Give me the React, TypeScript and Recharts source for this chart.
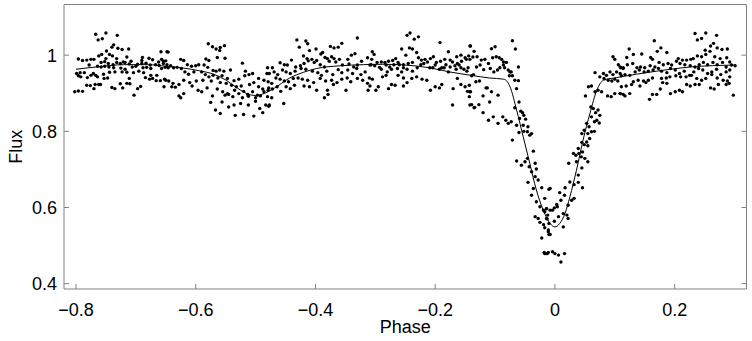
import React from "react";
import { ComposedChart, Scatter, Line, XAxis, YAxis } from "recharts";

const obsA: number[][] = [
  [-0.767,1.055],[-0.750,1.058],[-0.731,1.052],[-0.763,1.040],[-0.756,1.043],[-0.737,1.027],[-0.740,1.021],[-0.730,1.018],[-0.723,1.015],[-0.712,1.016],
  [-0.749,1.011],[-0.658,1.009],[-0.648,1.009],[-0.757,1.002],[-0.762,0.998],[-0.744,1.002],[-0.739,0.998],[-0.715,0.995],[-0.689,0.994],[-0.678,0.992],
  [-0.796,0.990],[-0.789,0.986],[-0.782,0.987],[-0.775,0.989],[-0.770,0.989],[-0.750,0.991],[-0.732,0.991],[-0.721,0.982],[-0.708,0.984],[-0.690,0.986],
  [-0.672,0.988],[-0.662,0.982],[-0.654,0.984],[-0.657,0.989],[-0.758,0.981],[-0.752,0.983],[-0.746,0.978],[-0.738,0.975],[-0.732,0.981],[-0.726,0.978],
  [-0.718,0.981],[-0.711,0.977],[-0.697,0.976],[-0.690,0.978],[-0.683,0.979],[-0.676,0.974],[-0.667,0.975],[-0.661,0.973],[-0.654,0.978],[-0.648,0.975],
  [-0.778,0.974],[-0.764,0.971],[-0.758,0.969],[-0.752,0.971],[-0.745,0.969],[-0.737,0.967],[-0.725,0.966],[-0.718,0.963],[-0.706,0.969],[-0.700,0.971],
  [-0.688,0.967],[-0.682,0.968],[-0.675,0.965],[-0.657,0.965],[-0.651,0.968],[-0.799,0.952],[-0.793,0.954],[-0.786,0.954],[-0.771,0.952],[-0.767,0.947],
  [-0.764,0.943],[-0.754,0.950],[-0.744,0.955],[-0.735,0.956],[-0.723,0.956],[-0.715,0.955],[-0.704,0.954],[-0.695,0.958],[-0.687,0.954],[-0.675,0.947],
  [-0.665,0.947],[-0.796,0.946],[-0.792,0.943],[-0.781,0.941],[-0.775,0.947],[-0.753,0.939],[-0.747,0.940],[-0.711,0.939],[-0.684,0.941],[-0.677,0.937],
  [-0.672,0.939],[-0.666,0.933],[-0.659,0.933],[-0.652,0.937],[-0.782,0.921],[-0.776,0.920],[-0.768,0.923],[-0.762,0.923],[-0.759,0.923],[-0.715,0.926],
  [-0.710,0.925],[-0.726,0.925],[-0.770,0.912],[-0.740,0.915],[-0.735,0.912],[-0.722,0.914],[-0.697,0.912],[-0.692,0.918],[-0.653,0.917],[-0.802,0.904],
  [-0.796,0.906],[-0.789,0.905],[-0.703,0.895]
];
const obsB: number[][] = [
  [-0.579,1.030],[-0.572,1.022],[-0.566,1.016],[-0.559,1.020],[-0.552,1.025],[-0.560,1.012],[-0.646,1.008],[-0.625,0.989],[-0.620,0.986],[-0.583,0.990],
  [-0.578,0.986],[-0.564,0.994],[-0.551,0.992],[-0.522,0.979],[-0.650,0.985],[-0.642,0.972],[-0.637,0.967],[-0.631,0.968],[-0.624,0.965],[-0.614,0.975],
  [-0.607,0.971],[-0.600,0.972],[-0.595,0.975],[-0.586,0.974],[-0.580,0.968],[-0.571,0.960],[-0.566,0.958],[-0.560,0.961],[-0.553,0.958],[-0.542,0.961],
  [-0.517,0.958],[-0.505,0.952],[-0.481,0.952],[-0.646,0.967],[-0.618,0.956],[-0.612,0.950],[-0.603,0.956],[-0.590,0.956],[-0.584,0.949],[-0.578,0.943],
  [-0.571,0.947],[-0.563,0.940],[-0.556,0.946],[-0.547,0.939],[-0.536,0.933],[-0.528,0.937],[-0.518,0.946],[-0.511,0.949],[-0.495,0.939],[-0.486,0.934],
  [-0.650,0.934],[-0.645,0.932],[-0.638,0.926],[-0.628,0.923],[-0.620,0.934],[-0.610,0.928],[-0.599,0.932],[-0.588,0.934],[-0.574,0.932],[-0.559,0.928],
  [-0.549,0.926],[-0.540,0.921],[-0.532,0.917],[-0.524,0.919],[-0.510,0.923],[-0.503,0.928],[-0.495,0.917],[-0.488,0.911],[-0.478,0.914],[-0.640,0.917],
  [-0.634,0.916],[-0.606,0.919],[-0.596,0.908],[-0.590,0.904],[-0.581,0.914],[-0.564,0.911],[-0.555,0.904],[-0.547,0.899],[-0.535,0.908],[-0.528,0.899],
  [-0.520,0.905],[-0.513,0.897],[-0.505,0.904],[-0.497,0.895],[-0.486,0.904],[-0.479,0.908],[-0.628,0.893],[-0.625,0.888],[-0.620,0.899],[-0.572,0.893],
  [-0.551,0.895],[-0.545,0.897],[-0.538,0.891],[-0.522,0.888],[-0.512,0.892],[-0.500,0.888],[-0.492,0.893],[-0.575,0.876],[-0.556,0.877],[-0.545,0.864],
  [-0.536,0.869],[-0.525,0.873],[-0.512,0.869],[-0.500,0.879],[-0.483,0.869],[-0.567,0.856],[-0.559,0.847],[-0.534,0.842],[-0.520,0.844],[-0.503,0.840],
  [-0.493,0.860],[-0.488,0.849],[-0.478,0.866]
];
const obsC: number[][] = [
  [-0.431,1.040],[-0.416,1.037],[-0.413,1.030],[-0.427,1.021],[-0.410,1.012],[-0.399,1.016],[-0.391,1.003],[-0.375,1.023],[-0.369,1.019],[-0.362,1.021],
  [-0.356,1.031],[-0.330,1.045],[-0.420,0.998],[-0.414,0.991],[-0.406,0.989],[-0.398,0.986],[-0.388,1.007],[-0.384,0.994],[-0.380,0.991],[-0.373,0.996],
  [-0.369,0.991],[-0.360,0.989],[-0.346,0.989],[-0.340,1.000],[-0.334,1.004],[-0.480,0.967],[-0.472,0.967],[-0.459,0.980],[-0.452,0.975],[-0.447,0.974],
  [-0.440,0.987],[-0.433,0.969],[-0.425,0.972],[-0.419,0.978],[-0.412,0.985],[-0.402,0.981],[-0.392,0.975],[-0.385,0.969],[-0.377,0.984],[-0.366,0.982],
  [-0.355,0.974],[-0.344,0.977],[-0.336,0.969],[-0.330,0.974],[-0.323,0.984],[-0.313,0.993],[-0.307,0.975],[-0.477,0.952],[-0.469,0.956],[-0.463,0.949],
  [-0.455,0.961],[-0.449,0.956],[-0.442,0.952],[-0.434,0.958],[-0.424,0.965],[-0.416,0.963],[-0.405,0.958],[-0.396,0.954],[-0.390,0.947],[-0.381,0.958],
  [-0.371,0.949],[-0.362,0.962],[-0.356,0.954],[-0.346,0.961],[-0.338,0.952],[-0.331,0.965],[-0.324,0.949],[-0.317,0.956],[-0.310,0.940],[-0.479,0.930],
  [-0.473,0.926],[-0.466,0.940],[-0.459,0.937],[-0.452,0.932],[-0.445,0.930],[-0.437,0.939],[-0.429,0.940],[-0.422,0.937],[-0.413,0.934],[-0.403,0.928],
  [-0.392,0.939],[-0.383,0.932],[-0.373,0.934],[-0.364,0.928],[-0.356,0.937],[-0.347,0.940],[-0.341,0.930],[-0.330,0.939],[-0.321,0.934],[-0.313,0.926],
  [-0.472,0.911],[-0.464,0.917],[-0.458,0.905],[-0.449,0.917],[-0.442,0.912],[-0.435,0.921],[-0.419,0.919],[-0.410,0.917],[-0.398,0.908],[-0.380,0.908],
  [-0.370,0.923],[-0.349,0.908],[-0.312,0.908],[-0.480,0.891],[-0.473,0.888],[-0.453,0.873],[-0.385,0.888],[-0.379,0.897],[-0.477,0.869]
];
const obsD: number[][] = [
  [-0.247,1.052],[-0.242,1.058],[-0.235,1.042],[-0.228,1.048],[-0.192,1.033],[-0.141,1.024],[-0.305,1.009],[-0.302,1.002],[-0.256,1.016],[-0.243,1.019],
  [-0.238,1.016],[-0.231,1.007],[-0.249,1.000],[-0.178,1.009],[-0.164,0.996],[-0.157,1.000],[-0.150,0.993],[-0.144,0.998],[-0.306,0.989],[-0.297,0.981],
  [-0.290,0.982],[-0.284,0.981],[-0.278,0.984],[-0.271,0.986],[-0.266,0.991],[-0.262,0.981],[-0.253,0.975],[-0.245,0.978],[-0.238,0.981],[-0.228,0.993],
  [-0.223,0.987],[-0.217,0.989],[-0.213,0.982],[-0.208,0.991],[-0.203,0.996],[-0.198,0.981],[-0.191,0.984],[-0.184,0.989],[-0.175,0.987],[-0.171,0.982],
  [-0.163,0.978],[-0.156,0.984],[-0.148,0.989],[-0.309,0.974],[-0.301,0.972],[-0.293,0.968],[-0.282,0.974],[-0.276,0.969],[-0.269,0.975],[-0.260,0.975],
  [-0.253,0.967],[-0.247,0.963],[-0.238,0.958],[-0.230,0.967],[-0.224,0.975],[-0.219,0.978],[-0.209,0.967],[-0.200,0.974],[-0.189,0.967],[-0.182,0.975],
  [-0.175,0.969],[-0.167,0.972],[-0.160,0.974],[-0.152,0.963],[-0.145,0.967],[-0.290,0.963],[-0.280,0.956],[-0.273,0.963],[-0.263,0.965],[-0.256,0.956],
  [-0.239,0.939],[-0.231,0.943],[-0.222,0.937],[-0.214,0.934],[-0.204,0.967],[-0.193,0.963],[-0.185,0.967],[-0.178,0.956],[-0.165,0.963],[-0.157,0.967],
  [-0.147,0.958],[-0.288,0.943],[-0.282,0.947],[-0.262,0.947],[-0.253,0.940],[-0.305,0.937],[-0.163,0.939],[-0.136,0.949],[-0.309,0.919],[-0.299,0.908],
  [-0.295,0.917],[-0.278,0.912],[-0.273,0.923],[-0.267,0.921],[-0.253,0.919],[-0.247,0.928],[-0.208,0.908],[-0.200,0.917],[-0.193,0.914],[-0.189,0.923],
  [-0.170,0.912],[-0.157,0.923],[-0.150,0.917],[-0.143,0.921],[-0.146,0.905],[-0.143,0.891],[-0.141,0.904],[-0.171,0.869],[-0.139,0.870],[-0.135,0.862]
];
const obsE: number[][] = [
  [-0.142,1.024],[-0.135,1.010],[-0.142,0.989],[-0.137,0.995],[-0.130,0.996],[-0.123,0.987],[-0.117,0.989],[-0.106,1.017],[-0.100,1.022],[-0.071,1.038],
  [-0.066,1.016],[-0.111,0.978],[-0.104,0.993],[-0.098,0.996],[-0.093,0.993],[-0.089,0.989],[-0.086,0.982],[-0.081,0.981],[-0.078,0.961],[-0.075,0.956],
  [-0.073,0.956],[-0.076,0.946],[-0.086,0.974],[-0.084,0.967],[-0.131,0.969],[-0.125,0.974],[-0.119,0.962],[-0.108,0.965],[-0.102,0.956],[-0.096,0.961],
  [-0.092,0.967],[-0.061,0.969],[-0.071,0.946],[-0.067,0.934],[-0.061,0.933],[-0.139,0.946],[-0.132,0.930],[-0.126,0.932],[-0.113,0.914],[-0.120,0.893],
  [-0.106,0.904],[-0.095,0.895],[-0.109,0.877],[-0.115,0.914],[-0.142,0.904],[-0.142,0.869],[-0.134,0.863],[-0.127,0.870],[-0.120,0.849],[-0.111,0.829],
  [-0.103,0.838],[-0.095,0.821],[-0.087,0.838],[-0.082,0.829],[-0.078,0.821],[-0.073,0.825],[-0.067,0.862],[-0.064,0.912],[-0.060,0.877],[-0.057,0.853],
  [-0.054,0.849],[-0.052,0.842],[-0.049,0.832],[-0.059,0.834],[-0.064,0.816],[-0.053,0.816],[-0.045,0.812],[-0.052,0.800],[-0.046,0.799],[-0.042,0.790],
  [-0.039,0.794],[-0.060,0.797],[-0.071,0.777],[-0.036,0.748],[-0.064,0.722],[-0.056,0.711],[-0.050,0.720],[-0.046,0.729],[-0.043,0.707],[-0.039,0.694],
  [-0.033,0.716],[-0.031,0.701],[-0.033,0.681],[-0.028,0.672],[-0.045,0.666],[-0.036,0.650],[-0.022,0.652],[-0.010,0.648],[-0.039,0.632],[-0.031,0.615],
  [-0.025,0.602],[-0.019,0.593],[-0.017,0.589],[-0.014,0.597],[-0.033,0.576],[-0.028,0.571],[-0.025,0.561],[-0.019,0.555],[-0.013,0.570],[-0.010,0.558],
  [-0.011,0.536],[-0.008,0.529],[-0.022,0.520],[-0.018,0.482],[-0.013,0.479]
];
const obsF: number[][] = [
  [0.097,0.996],[0.100,0.989],[0.106,0.975],[0.110,0.967],[0.114,0.965],[0.067,0.954],[0.075,0.943],[0.081,0.952],[0.086,0.947],[0.092,0.956],
  [0.097,0.949],[0.103,0.956],[0.111,0.946],[0.082,0.939],[0.089,0.934],[0.095,0.932],[0.100,0.937],[0.105,0.932],[0.056,0.917],[0.061,0.919],
  [0.051,0.893],[0.067,0.904],[0.072,0.908],[0.078,0.904],[0.088,0.893],[0.094,0.891],[0.100,0.899],[0.109,0.899],[0.114,0.897],[0.060,0.864],
  [0.064,0.860],[0.068,0.849],[0.072,0.856],[0.075,0.842],[0.070,0.829],[0.066,0.825],[0.074,0.822],[0.061,0.838],[0.053,0.821],[0.057,0.812],
  [0.049,0.803],[0.045,0.794],[0.055,0.794],[0.061,0.799],[0.066,0.800],[0.058,0.781],[0.053,0.772],[0.049,0.765],[0.045,0.771],[0.055,0.762],
  [0.039,0.755],[0.031,0.742],[0.035,0.737],[0.040,0.742],[0.046,0.746],[0.044,0.733],[0.050,0.729],[0.055,0.720],[0.023,0.716],[0.036,0.720],
  [0.045,0.704],[0.039,0.685],[0.025,0.667],[0.032,0.660],[0.039,0.666],[0.046,0.652],[0.017,0.652],[0.008,0.639],[0.016,0.632],[0.010,0.619],
  [0.003,0.608],[-0.001,0.599],[-0.008,0.593],[-0.014,0.597],[-0.004,0.593],[-0.012,0.580],[-0.017,0.624],[-0.008,0.650],[0.004,0.602],[0.022,0.606],
  [0.028,0.619],[0.032,0.624],[0.006,0.576],[0.014,0.584],[0.020,0.580],[0.022,0.571],[-0.001,0.564],[0.014,0.549],[-0.014,0.571],[-0.011,0.541],
  [-0.010,0.529],[-0.017,0.547],[-0.017,0.479],[-0.011,0.482],[-0.004,0.484],[0.000,0.479],[0.006,0.475],[0.010,0.457],[0.016,0.479]
];
const obsG: number[][] = [
  [0.234,1.057],[0.252,1.058],[0.270,1.052],[0.245,1.044],[0.238,1.040],[0.166,1.038],[0.265,1.031],[0.260,1.024],[0.271,1.019],[0.279,1.015],
  [0.288,1.016],[0.177,1.019],[0.171,1.010],[0.124,1.016],[0.120,0.994],[0.131,1.002],[0.145,1.003],[0.160,0.994],[0.163,0.989],[0.187,1.007],
  [0.206,0.991],[0.213,0.987],[0.220,0.987],[0.227,0.989],[0.231,0.991],[0.238,0.998],[0.245,0.996],[0.252,1.002],[0.259,1.010],[0.267,0.996],
  [0.276,0.991],[0.287,0.993],[0.292,0.982],[0.251,1.013],[0.109,0.969],[0.114,0.967],[0.121,0.975],[0.130,0.978],[0.137,0.967],[0.143,0.969],
  [0.150,0.967],[0.159,0.972],[0.167,0.969],[0.174,0.981],[0.181,0.975],[0.189,0.978],[0.195,0.974],[0.203,0.984],[0.209,0.978],[0.217,0.975],
  [0.226,0.972],[0.234,0.969],[0.241,0.975],[0.248,0.981],[0.255,0.975],[0.264,0.981],[0.271,0.975],[0.280,0.981],[0.286,0.969],[0.295,0.974],
  [0.301,0.972],[0.109,0.952],[0.117,0.949],[0.125,0.947],[0.134,0.956],[0.141,0.961],[0.149,0.956],[0.156,0.958],[0.164,0.961],[0.173,0.965],
  [0.178,0.958],[0.187,0.954],[0.193,0.965],[0.201,0.961],[0.208,0.952],[0.216,0.958],[0.225,0.947],[0.232,0.956],[0.240,0.965],[0.247,0.961],
  [0.255,0.952],[0.262,0.956],[0.270,0.963],[0.277,0.949],[0.286,0.956],[0.292,0.961],[0.131,0.930],[0.139,0.934],[0.148,0.932],[0.156,0.934],
  [0.163,0.940],[0.178,0.939],[0.186,0.940],[0.192,0.943],[0.202,0.946],[0.210,0.943],[0.219,0.943],[0.228,0.947],[0.237,0.939],[0.245,0.934],
  [0.252,0.939],[0.262,0.949],[0.271,0.940],[0.281,0.934],[0.288,0.932],[0.292,0.943],[0.111,0.917],[0.119,0.919],[0.128,0.923],[0.142,0.919],
  [0.152,0.928],[0.180,0.928],[0.187,0.926],[0.220,0.923],[0.226,0.919],[0.234,0.923],[0.241,0.923],[0.260,0.914],[0.266,0.911],[0.273,0.923],
  [0.286,0.923],[0.291,0.926],[0.109,0.899],[0.117,0.893],[0.125,0.899],[0.163,0.897],[0.170,0.897],[0.158,0.884],[0.176,0.911],[0.193,0.899],
  [0.201,0.904],[0.208,0.908],[0.213,0.904],[0.298,0.895]
];

// Model light curve
const modelPhase = [-0.8,-0.76,-0.72,-0.68,-0.65,-0.62,-0.594,-0.57,-0.549,-0.53,-0.516,-0.5,-0.488,-0.47,-0.443,-0.42,-0.398,-0.36,-0.32,-0.288,-0.25,-0.21,-0.176,-0.14,-0.109,-0.086,-0.081,-0.075,-0.064,-0.053,-0.042,-0.031,-0.0195,-0.008,0,0.008,0.017,0.025,0.036,0.047,0.0585,0.07,0.081,0.103,0.17,0.226,0.301];
const modelFlux = [0.963,0.970,0.975,0.975,0.971,0.966,0.959,0.950,0.934,0.913,0.900,0.894,0.898,0.912,0.940,0.955,0.965,0.972,0.975,0.976,0.974,0.967,0.956,0.947,0.940,0.937,0.933,0.917,0.856,0.786,0.716,0.646,0.593,0.558,0.549,0.558,0.585,0.628,0.698,0.777,0.847,0.908,0.934,0.941,0.958,0.969,0.974];

const xTicks = [-0.8, -0.6, -0.4, -0.2, 0, 0.2];
const yTicks = [0.4, 0.6, 0.8, 1];
const xDomain: [number, number] = [-0.82, 0.32];
const yDomain: [number, number] = [0.386, 1.133];

const obsData = [...obsA, ...obsB, ...obsC, ...obsD, ...obsE, ...obsF, ...obsG].map(([p, f]) => ({ phase: p, flux: f }));
const modelData = modelPhase.map((p, i) => ({ phase: p, flux: modelFlux[i] }));

const AXIS = "#808080";
const FONT = "'Liberation Sans', Arial, Helvetica, sans-serif";
const TICK_FS = 18;
const fmt = (v: number) => String(v).replace("-", "\u2212");

const BottomTick = (props: any) => {
  const { x, y, payload } = props;
  return (
    <g>
      <line x1={x} y1={y} x2={x} y2={y - 5} stroke={AXIS} />
      <text x={x} y={y + 27} textAnchor="middle" fontSize={TICK_FS} fill="#000" fontFamily={FONT}>{fmt(payload.value)}</text>
    </g>
  );
};
const TopTick = (props: any) => {
  const { x, y } = props;
  return <line x1={x} y1={y} x2={x} y2={y + 5} stroke={AXIS} />;
};
const LeftTick = (props: any) => {
  const { x, y, payload } = props;
  return (
    <g>
      <line x1={x} y1={y} x2={x + 5} y2={y} stroke={AXIS} />
      <text x={x - 7} y={y + 6.5} textAnchor="end" fontSize={TICK_FS} fill="#000" fontFamily={FONT}>{fmt(payload.value)}</text>
    </g>
  );
};
const RightTick = (props: any) => {
  const { x, y } = props;
  return <line x1={x} y1={y} x2={x - 5} y2={y} stroke={AXIS} />;
};

const Dot = (props: any) => <circle cx={props.cx} cy={props.cy} r={1.7} fill="#000" />;

export default function App() {
  return (
    <div style={{ position: "absolute", left: 0, top: 0, width: 752, height: 341, background: "#fff" }}>
      <ComposedChart width={752} height={341} margin={{ top: 3.5, right: 4.5, bottom: 0, left: 0 }}>
        <XAxis
          xAxisId={0}
          dataKey="phase"
          type="number"
          domain={xDomain}
          ticks={xTicks}
          allowDataOverflow
          height={52}
          tickSize={0}
          tickMargin={0}
          tickLine={false}
          axisLine={{ stroke: AXIS }}
          tick={BottomTick}
          label={{
            content: (p: any) => {
              const vb = p.viewBox;
              return (
                <text x={vb.x + vb.width / 2} y={vb.y + 44} textAnchor="middle" fontSize={18} fill="#000" fontFamily={FONT}>Phase</text>
              );
            },
          }}
        />
        <XAxis
          xAxisId="top"
          orientation="top"
          type="number"
          domain={xDomain}
          ticks={xTicks}
          allowDataOverflow
          height={1}
          tickSize={0}
          tickMargin={0}
          tickLine={false}
          axisLine={{ stroke: AXIS }}
          tick={TopTick}
        />
        <YAxis
          yAxisId={0}
          type="number"
          domain={yDomain}
          ticks={yTicks}
          allowDataOverflow
          width={64}
          tickSize={0}
          tickMargin={0}
          tickLine={false}
          axisLine={{ stroke: AXIS }}
          tick={LeftTick}
          label={{
            content: (p: any) => {
              const vb = p.viewBox;
              const cy = vb.y + vb.height / 2;
              return (
                <text x={21.5} y={cy} transform={`rotate(-90 21.5 ${cy})`} textAnchor="middle" fontSize={18} fill="#000" fontFamily={FONT}>Flux</text>
              );
            },
          }}
        />
        <YAxis
          yAxisId="right"
          orientation="right"
          type="number"
          domain={yDomain}
          ticks={yTicks}
          allowDataOverflow
          width={1}
          tickSize={0}
          tickMargin={0}
          tickLine={false}
          axisLine={{ stroke: AXIS }}
          tick={RightTick}
        />
        <Scatter data={obsData} dataKey="flux" xAxisId={0} yAxisId={0} shape={Dot} isAnimationActive={false} />
        <Line data={modelData} dataKey="flux" xAxisId={0} yAxisId={0} type="monotone" stroke="#000" strokeWidth={1} dot={false} activeDot={false} isAnimationActive={false} />
      </ComposedChart>
    </div>
  );
}
